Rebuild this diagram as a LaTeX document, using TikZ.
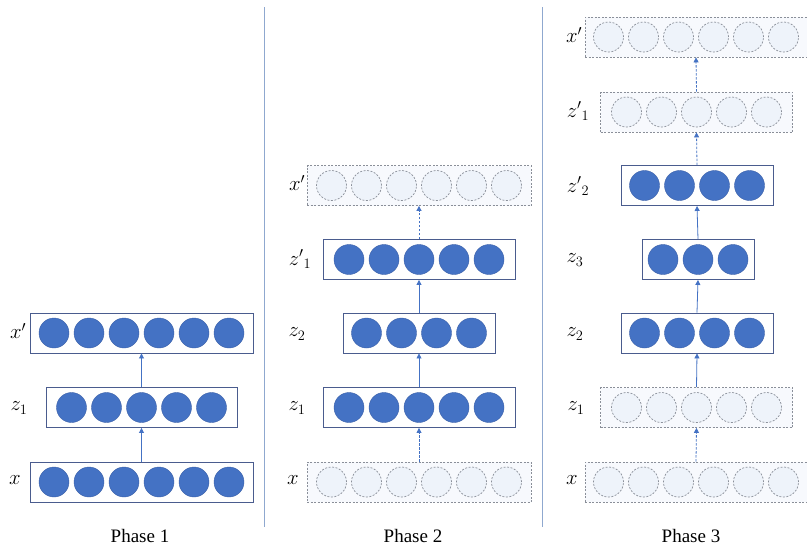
\documentclass[tikz,border=0pt]{standalone}
\usepackage{fontspec}
\setmainfont{Liberation Serif}
\usetikzlibrary{arrows.meta}
\definecolor{fillblue}{HTML}{4472C4}
\definecolor{edgeblue}{HTML}{3A5FA8}
\definecolor{boxedge}{HTML}{4A5C8E}
\definecolor{lightfill}{HTML}{EEF3FA}
\definecolor{boxfill}{HTML}{F7F9FD}
\definecolor{dashgray}{HTML}{8A8F99}
\definecolor{divider}{HTML}{8FA8CF}
\tikzset{
  solidbox/.style={draw=boxedge, line width=0.9pt, fill=white, minimum height=40pt, inner sep=0pt},
  ghostbox/.style={draw=dashgray, line width=0.8pt, dash pattern=on 2pt off 1.5pt, fill=boxfill, minimum height=40pt, inner sep=0pt},
  solidunit/.style={circle, fill=fillblue, draw=edgeblue, line width=0.4pt, minimum size=30pt, inner sep=0pt},
  ghostunit/.style={circle, fill=lightfill, draw=dashgray, line width=0.7pt, dash pattern=on 2pt off 1.5pt, minimum size=30pt, inner sep=0pt},
  flow/.style={draw=fillblue, line width=0.8pt, -{Triangle[width=5pt,length=5pt]}},
  ghostflow/.style={flow, dash pattern=on 2.5pt off 1.5pt},
  lbl/.style={font=\fontsize{22}{24}\selectfont, anchor=center},
  phaselbl/.style={font=\fontsize{19}{21}\selectfont, anchor=center},
}
% \mylayer{name}{cx}{cy}{width}{n}{box style}{unit style}
\newcommand{\mylayer}[7]{%
  \node[#6, minimum width=#4pt] (#1) at (#2,#3) {};
  \foreach \i in {1,...,#5}{%
    \node[#7] (#1-\i) at ({#2+(\i-(#5+1)/2)*35},#3) {};
  }%
}
\begin{document}
\begin{tikzpicture}[x=1pt,y=-1pt]
\useasboundingbox (0,0) rectangle (807,550);
\fill[white] (0,0) rectangle (807,550);
% dividers
\draw[divider, line width=1pt] (264,7) -- (264,527);
\draw[divider, line width=1pt] (542,7) -- (542,527);

% Phase 1
\mylayer{pa-x}{141.5}{482}{223}{6}{solidbox}{solidunit}
\mylayer{pa-z1}{141.5}{407.5}{191}{5}{solidbox}{solidunit}
\mylayer{pa-xp}{141.5}{333}{223}{6}{solidbox}{solidunit}
\draw[flow] (pa-x.north) -- (pa-z1.south);
\draw[flow] (pa-z1.north) -- (pa-xp.south);
\node[lbl] (pa-lx) at (15,480) {$x$};
\node[lbl] (pa-lz1) at (19,408) {$z_1$};
\node[lbl] (pa-lxp) at (18,331) {$x'$};
\node[phaselbl] (pa-t) at (140,536) {Phase 1};

% Phase 2
\mylayer{pb-x}{419}{482}{224}{6}{ghostbox}{ghostunit}
\mylayer{pb-z1}{419}{407.5}{192}{5}{solidbox}{solidunit}
\mylayer{pb-z2}{419}{333}{152}{4}{solidbox}{solidunit}
\mylayer{pb-z1p}{419}{259.5}{192}{5}{solidbox}{solidunit}
\mylayer{pb-xp}{419}{185.5}{224}{6}{ghostbox}{ghostunit}
\draw[ghostflow] (pb-x.north) -- (pb-z1.south);
\draw[flow] (pb-z1.north) -- (pb-z2.south);
\draw[flow] (pb-z2.north) -- (pb-z1p.south);
\draw[ghostflow] (pb-z1p.north) -- (pb-xp.south);
\node[lbl] (pb-lx) at (293,480) {$x$};
\node[lbl] (pb-lz1) at (297,408) {$z_1$};
\node[lbl] (pb-lz2) at (297,334) {$z_2$};
\node[lbl] (pb-lz1p) at (300,259) {$z'{}_1$};
\node[lbl] (pb-lxp) at (297,183) {$x'$};
\node[phaselbl] (pb-t) at (413,536) {Phase 2};

% Phase 3
\mylayer{pc-x}{696}{482}{222}{6}{ghostbox}{ghostunit}
\mylayer{pc-z1}{696.5}{407.5}{192}{5}{ghostbox}{ghostunit}
\mylayer{pc-z2}{697}{333}{152}{4}{solidbox}{solidunit}
\mylayer{pc-z3}{698}{259.5}{112}{3}{solidbox}{solidunit}
\mylayer{pc-z2p}{697}{185.5}{152}{4}{solidbox}{solidunit}
\mylayer{pc-z1p}{696.5}{112}{192}{5}{ghostbox}{ghostunit}
\mylayer{pc-xp}{696}{37}{222}{6}{ghostbox}{ghostunit}
\draw[ghostflow] (pc-x.north) -- (pc-z1.south);
\draw[flow] (pc-z1.north) -- (pc-z2.south);
\draw[flow] (pc-z2.north) -- (pc-z3.south);
\draw[flow] (pc-z3.north) -- (pc-z2p.south);
\draw[ghostflow] (pc-z2p.north) -- (pc-z1p.south);
\draw[ghostflow] (pc-z1p.north) -- (pc-xp.south);
\node[lbl] (pc-lx) at (572,480) {$x$};
\node[lbl] (pc-lz1) at (576,408) {$z_1$};
\node[lbl] (pc-lz2) at (575,334) {$z_2$};
\node[lbl] (pc-lz3) at (575,260) {$z_3$};
\node[lbl] (pc-lz2p) at (578,186) {$z'{}_2$};
\node[lbl] (pc-lz1p) at (578,111) {$z'{}_1$};
\node[lbl] (pc-lxp) at (574,35) {$x'$};
\node[phaselbl] (pc-t) at (691,536) {Phase 3};
\end{tikzpicture}
\end{document}
